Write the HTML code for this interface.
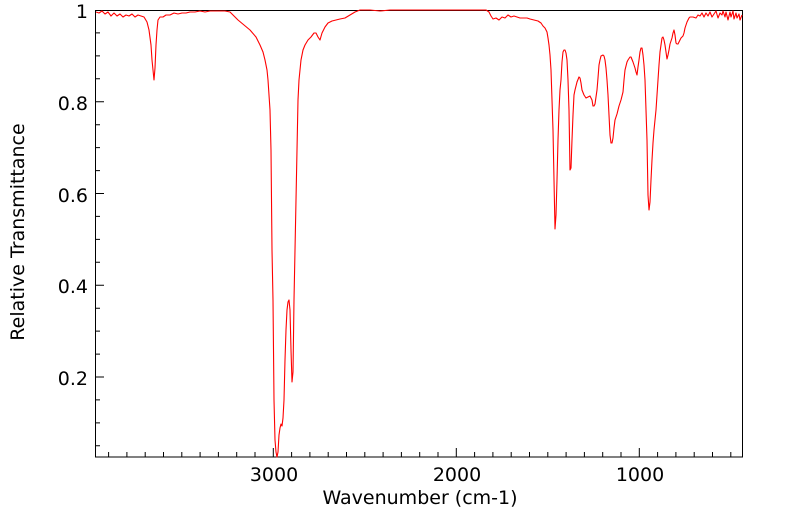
<!DOCTYPE html>
<html><head><style>
body{margin:0;background:#fff;}
svg text{font-family:"DejaVu Sans","Liberation Sans",sans-serif;fill:#000;}
</style></head><body>
<svg width="799" height="516" xmlns="http://www.w3.org/2000/svg">
<rect width="799" height="516" fill="#fff"/>
<g stroke="#000" stroke-width="1" fill="none">
<rect x="95.5" y="10.5" width="647" height="446.5"/>
<path d="M108.6,457v-5M126.9,457v-5M145.2,457v-5M163.5,457v-5M181.8,457v-5M200.1,457v-5M218.4,457v-5M236.7,457v-5M255,457v-5M273.3,457v-9M291.6,457v-5M309.9,457v-5M328.2,457v-5M346.5,457v-5M364.8,457v-5M383.1,457v-5M401.4,457v-5M419.7,457v-5M438,457v-5M456.3,457v-9M474.6,457v-5M492.9,457v-5M511.2,457v-5M529.5,457v-5M547.8,457v-5M566.1,457v-5M584.4,457v-5M602.7,457v-5M621,457v-5M639.3,457v-9M657.6,457v-5M675.9,457v-5M694.2,457v-5M712.5,457v-5M730.8,457v-5
M95,32.9h5M95,55.9h5M95,78.8h5M95,101.75h9M95,124.7h5M95,147.6h5M95,170.6h5M95,193.5h9M95,216.4h5M95,239.4h5M95,262.3h5M95,285.25h9M95,308.2h5M95,331.1h5M95,354.1h5M95,377h9M95,399.9h5M95,422.9h5M95,445.8h5"/>
</g>
<path fill="none" stroke="#ff0000" stroke-width="1.1" stroke-linejoin="round" d="
M96,12 L99,13 L102,11 L105,14 L108,12 L111,16 L114,13 L117,16 L120,14 L123,17 L126,15 L129,16 L132,14 L135,17 L138,15 L141,16 L144,17 L147,22 L149,30 L151,45 L152,60 L154,80 L155,68 L156,45 L157,30 L158,20 L160,17 L163,17 L166,15 L170,15 L174,13 L178,14 L182,13 L186,13 L190,12 L195,12 L200,11 L205,12 L210,11 L215,11 L220,11 L225,11 L230,12 L234,16 L238,20 L244,25 L250,30 L256,37 L260,45 L263,52 L265,60 L267,70 L268,80 L269,95 L270,110 L271,150 L272,250 L273,300 L274,400 L275,440 L276,452 L277,457 L278,452 L279,435 L280,428 L281,424 L282,426 L283,418 L284,400 L285,360 L286,330 L287,310 L288,302 L289,300 L290,310 L291,350 L292,382 L293,372 L294,300 L295,250 L296,200 L297,150 L298,100 L299,80 L301,60 L303,50 L305,45 L308,40 L311,37 L314,33 L316,33 L318,37 L320,40 L322,33 L325,27 L328,23 L332,21 L336,20 L340,19 L345,18 L350,15 L355,12 L360,10 L370,10 L380,11 L390,10 L400,10 L410,10 L420,10 L430,10 L440,10 L450,10 L460,10 L470,10 L480,10 L486,10 L489,12 L491,16 L493,19 L496,18 L499,20 L502,17 L505,18 L508,15 L511,17 L514,16 L517,17 L520,18 L524,18 L527,18 L530,19 L534,20 L538,21 L541,23 L543,26 L545,28 L547,32 L548,38 L549,45 L550,55 L551,70 L552,100 L553,130 L554,180 L555,229 L556,215 L557,180 L558,140 L559,110 L560,90 L561,80 L562,62 L563,52 L564,50 L565,50 L566,53 L567,60 L568,80 L569,110 L570,170 L571,168 L572,140 L573,115 L574,95 L575,90 L577,82 L579,77 L580,78 L581,83 L582,90 L584,95 L586,98 L588,97 L590,96 L592,100 L593,106 L594,106 L595,104 L596,97 L597,90 L598,78 L599,65 L600,60 L601,56 L603,55 L604,56 L605,60 L606,68 L607,80 L608,95 L609,115 L610,135 L611,143 L612,143 L613,138 L614,128 L615,120 L617,114 L619,106 L621,100 L622,96 L623,92 L624,80 L625,70 L627,62 L628,60 L630,57 L631,57 L633,62 L635,68 L636,72 L637,75 L638,67 L639,60 L640,52 L641,48 L642,48 L643,55 L644,65 L645,80 L646,110 L647,140 L648,195 L649,210 L650,202 L651,180 L652,160 L653,143 L654,130 L655,120 L656,110 L657,95 L658,80 L659,65 L660,52 L661,45 L662,38 L663,37 L664,40 L665,45 L666,52 L667,59 L668,55 L669,50 L670,44 L672,38 L673,33 L674,30 L675,35 L676,43 L677,44 L678,44 L680,40 L681,38 L683,36 L684,33 L685,28 L687,22 L689,18 L690,17 L693,17 L696,18 L698,15 L700,16 L702,13 L704,17 L706,13 L708,16 L710,12 L712,17 L714,14 L716,11 L718,18 L720,13 L722,15 L723,11 L725,17 L726,12 L728,20 L730,12 L731,17 L733,11 L734,19 L736,13 L737,18 L739,14 L740,20 L742,15"/>
<g font-size="19" text-anchor="end">
<text x="88" y="18">1</text>
<text x="88" y="110">0.8</text>
<text x="88" y="202">0.6</text>
<text x="88" y="293">0.4</text>
<text x="88" y="385">0.2</text>
</g>
<g font-size="19" text-anchor="middle">
<text x="274" y="481">3000</text>
<text x="457" y="481">2000</text>
<text x="640" y="481">1000</text>
<text x="420" y="504">Wavenumber (cm-1)</text>
<text transform="translate(24,232) rotate(-90)">Relative Transmittance</text>
</g>
</svg>
</body></html>
